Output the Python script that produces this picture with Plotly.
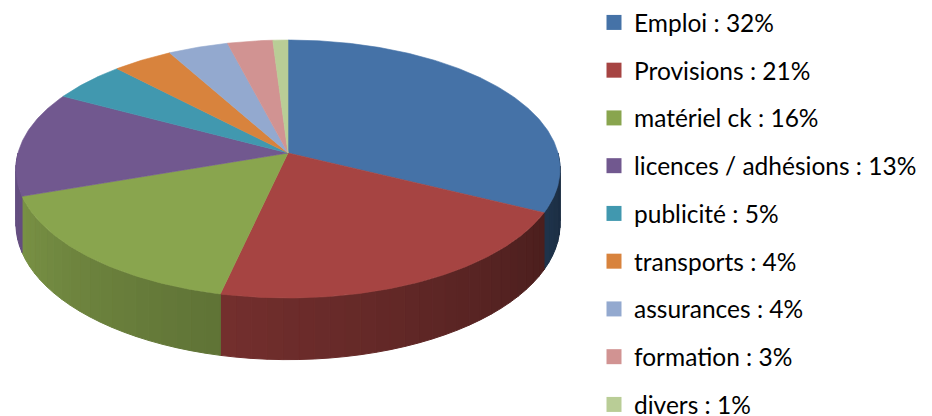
import numpy as np
import plotly.graph_objects as go

labels = ["Emploi", "Provisions", "matériel ck", "licences / adhésions", "publicité",
          "transports", "assurances", "formation", "divers"]
values = [32, 21, 16, 13, 5, 4, 4, 3, 1]
colors = ["#4572a7", "#a64442", "#89a54e", "#71588f", "#4198af",
          "#d8833d", "#93a9cf", "#d19392", "#b9cd96"]

# projection of the tilted disc (pixel space)
CX, CY, R, S, K, D = 288.0, 153.0, 270.0, 127.0, 0.124, 54.0
W, H = 932, 416


def proj(theta):
    t = np.radians(theta)
    u, v = np.sin(t), np.cos(t)
    den = 1 + K * v
    return CX + R * u / den, CY - S * v / den, den


def hex2rgb(h):
    h = h.lstrip("#")
    return tuple(int(h[i:i + 2], 16) for i in (0, 2, 4))


def shade(h, f):
    r, g, b = hex2rgb(h)
    return "rgb(%d,%d,%d)" % (r * f, g * f, b * f)


total = float(sum(values))
bounds = np.concatenate([[0.0], np.cumsum(values) / total * 360.0])

fig = go.Figure()

# sides (front half only), drawn as shaded strips
for i, c in enumerate(colors):
    a0, a1 = max(bounds[i], 90.0), min(bounds[i + 1], 270.0)
    if a1 <= a0:
        continue
    n = max(1, int(np.ceil((a1 - a0) / 3.0)))
    edges = np.linspace(a0, a1, n + 1)
    for j in range(n):
        th = np.linspace(edges[j], edges[j + 1], 6)
        x, y, den = proj(th)
        yb = y + D / den
        xs = np.concatenate([x, x[::-1], [x[0]]])
        ys = np.concatenate([y, yb[::-1], [y[0]]])
        mid = 0.5 * (edges[j] + edges[j + 1])
        f = float(np.clip(0.45 + 0.0032 * (mid - 115.0), 0.38, 0.9))
        col = shade(c, f)
        fig.add_trace(go.Scatter(x=xs, y=ys, mode="lines", fill="toself",
                                 fillcolor=col, line=dict(color=col, width=1),
                                 hoverinfo="skip", showlegend=False))

# top faces
for i, c in enumerate(colors):
    th = np.linspace(bounds[i], bounds[i + 1], max(4, int(values[i] * 6)))
    x, y, _ = proj(th)
    xs = np.concatenate([[CX], x, [CX]])
    ys = np.concatenate([[CY], y, [CY]])
    fig.add_trace(go.Scatter(x=xs, y=ys, mode="lines", fill="toself",
                             fillcolor=c, line=dict(color=c, width=0.6),
                             hoverinfo="skip", showlegend=False))

# legend entries
for i, (lab, val, c) in enumerate(zip(labels, values, colors)):
    fig.add_trace(go.Scatter(x=[None], y=[None], mode="markers",
                             marker=dict(symbol="square", size=15, color=c,
                                         line=dict(width=0)),
                             name=f"{lab} : {val}%", legendgroup=str(i),
                             showlegend=True))

fig.update_layout(
    width=W, height=H,
    margin=dict(l=0, r=0, t=0, b=0),
    paper_bgcolor="white", plot_bgcolor="white",
    xaxis=dict(range=[0, W], visible=False, fixedrange=True),
    yaxis=dict(range=[H, 0], visible=False, fixedrange=True),
    showlegend=True,
    legend=dict(x=594 / W, y=1.0, xanchor="left", yanchor="top",
                font=dict(family="Lato", size=24.5, color="#000000"),
                tracegroupgap=12.9, itemwidth=30, bgcolor="rgba(0,0,0,0)",
                maxheight=600),
)

fig.write_html("out.html", config={"displayModeBar": False},
               post_script="document.body.style.margin='0px';"
               "document.body.style.overflow='hidden';")
